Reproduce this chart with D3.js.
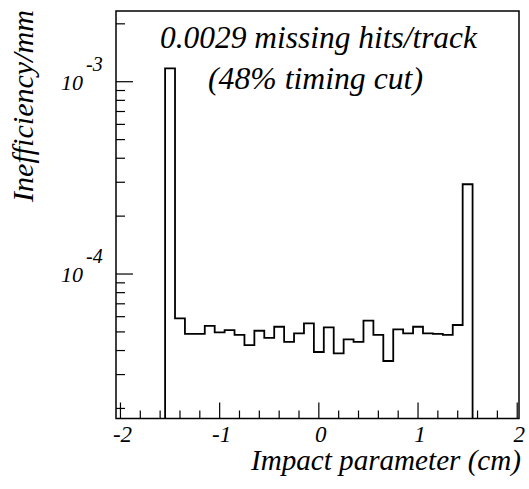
<!DOCTYPE html>
<html>
<head>
<meta charset="utf-8">
<script src="https://cdn.jsdelivr.net/npm/d3@7"></script>
<style>
  html, body { margin: 0; padding: 0; background: #fff; }
  svg { display: block; }
</style>
</head>
<body>
<svg id="chart" width="529" height="489"></svg>
<script>
// ---- data ----
const binStart = -1.55;
const binWidth = 0.1;
const inefficiency = [
  1.174e-3, 5.88e-5, 4.88e-5, 4.88e-5, 5.38e-5, 4.97e-5, 5.11e-5, 4.82e-5,
  4.27e-5, 5.07e-5, 4.66e-5, 5.32e-5, 4.44e-5, 4.91e-5, 5.54e-5, 3.93e-5,
  5.28e-5, 3.87e-5, 4.57e-5, 4.44e-5, 5.72e-5, 4.82e-5, 3.53e-5, 5.16e-5,
  4.91e-5, 5.32e-5, 4.91e-5, 4.88e-5, 4.82e-5, 5.43e-5, 2.93e-4
];
const xTickValues = [-2, -1, 0, 1, 2];
const xTickLabels = ["-2", "-1", "0", "1", "2"];
const yTickValues = [1e-4, 1e-3];
const yTickExponents = ["-4", "-3"];
const annotationLines = ["0.0029 missing hits/track", "(48% timing cut)"];
const xTitle = "Impact parameter (cm)";
const yTitle = "Inefficiency/mm";

// ---- layout ----
const L = 116, R = 519, T = 11, B = 418.5;
const svg = d3.select("#chart");

const x = d3.scaleLinear().domain([-2.045, 2.018]).range([L, R]);
const y = d3.scaleLog().domain([1.773e-5, 2.332e-3]).range([B, T]);

function styleText(sel, size) {
  return sel.style("font-family", '"Liberation Serif"').attr("font-style", "italic")
    .attr("font-size", size).attr("fill", "#000");
}
// scale the font size so the text spans a target width
function fitText(str, px, py, size, anchor, target, rot) {
  const t = styleText(svg.append("text"), size).attr("text-anchor", anchor).text(str)
    .attr("transform", `translate(${px},${py}) rotate(${rot || 0})`);
  const w = t.node().getComputedTextLength();
  t.attr("font-size", (size * target / w).toFixed(2));
  return t;
}

// frame
svg.append("rect").attr("x", L).attr("y", T).attr("width", R - L).attr("height", B - T)
  .attr("fill", "none").attr("stroke", "#000").attr("stroke-width", 1.5);

// x ticks (inside, bottom)
const xMinor = d3.range(-20, 21, 2).map(d => d / 10);
svg.append("g").selectAll("line").data(xMinor).join("line")
  .attr("x1", d => x(d)).attr("x2", d => x(d))
  .attr("y1", B).attr("y2", d => Math.abs(d - Math.round(d)) < 1e-9 ? B - 16 : B - 8)
  .attr("stroke", "#000").attr("stroke-width", 1.2);

// y ticks (inside, left)
const yMinor = [];
[1e-5, 1e-4, 1e-3].forEach(dec => { for (let k = 1; k <= 9; k++) { const v = k * dec; if (v >= 1.773e-5 && v <= 2.332e-3) yMinor.push(v); } });
svg.append("g").selectAll("line").data(yMinor).join("line")
  .attr("x1", L).attr("x2", d => yTickValues.some(t => Math.abs(t - d) / t < 1e-6) ? L + 17 : L + 9)
  .attr("y1", d => y(d)).attr("y2", d => y(d))
  .attr("stroke", "#000").attr("stroke-width", 1.2);

// histogram outline
const edges = d3.range(inefficiency.length + 1).map(i => binStart + i * binWidth);
const pts = [[x(edges[0]), B]];
inefficiency.forEach((v, i) => { pts.push([x(edges[i]), y(v)]); pts.push([x(edges[i + 1]), y(v)]); });
pts.push([x(edges[edges.length - 1]), B]);
svg.append("path").attr("d", d3.line()(pts)).attr("fill", "none")
  .attr("stroke", "#000").attr("stroke-width", 1.8).attr("stroke-linejoin", "miter");

// x tick labels
styleText(svg.append("g").selectAll("text").data(xTickValues).join("text"), 23)
  .attr("x", d => x(d) + 2).attr("y", 442).attr("text-anchor", "middle")
  .text((d, i) => xTickLabels[i]);

// y tick labels: 10^exp
const yl = svg.append("g").selectAll("g").data(yTickValues).join("g");
styleText(yl.append("text"), 22).attr("x", 83).attr("y", d => y(d) + 8).attr("text-anchor", "end")
  .text("10");
styleText(yl.append("text"), 20).attr("x", 86).attr("y", d => y(d) - 11)
  .text((d, i) => yTickExponents[i]);

// annotation
fitText(annotationLines[0], 318.5, 48, 28, "middle", 317);
fitText(annotationLines[1], 315.5, 89, 28, "middle", 215);

// axis titles
fitText(xTitle, 521, 470, 28, "end", 270);
fitText(yTitle, 33, 106, 28, "middle", 192, -90);
</script>
</body>
</html>
